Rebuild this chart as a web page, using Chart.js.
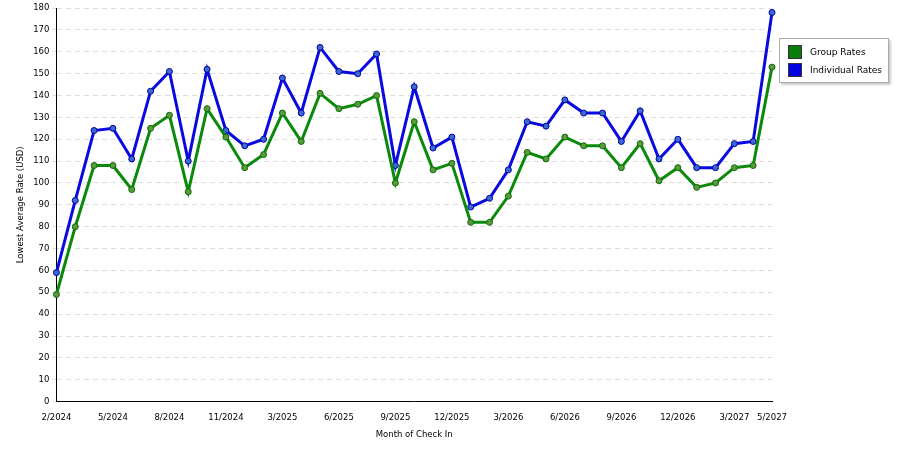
<!DOCTYPE html>
<html><head><meta charset="utf-8">
<script src="https://cdn.jsdelivr.net/npm/chart.js@4/dist/chart.umd.min.js"></script>
<style>
body{margin:0;background:#fff;font-family:"DejaVu Sans",sans-serif;}
#wrap{position:relative;width:900px;height:450px;}
#legend{position:absolute;left:779px;top:38px;width:110px;border:1px solid #aaa;background:#fff;font-size:9px;padding:4px 0 3px 8px;box-sizing:border-box;box-shadow:2px 2px 2px #ccc;}
#legend div{display:flex;align-items:center;height:18px;}
#legend span{display:inline-block;width:12px;height:12px;margin-right:8px;border:1px solid #333;}
</style></head><body>
<div id="wrap"><canvas id="c" width="900" height="450"></canvas>
<div id="legend"><div><span style="background:#0a7d0a"></span>Group Rates</div><div><span style="background:#0000e0"></span>Individual Rates</div></div></div>
<script>
const categories=["2/2024","3/2024","4/2024","5/2024","6/2024","7/2024","8/2024","9/2024","10/2024","11/2024","12/2024","1/2025","3/2025","4/2025","5/2025","6/2025","7/2025","8/2025","9/2025","10/2025","11/2025","12/2025","1/2026","2/2026","3/2026","4/2026","5/2026","6/2026","7/2026","8/2026","9/2026","10/2026","11/2026","12/2026","1/2027","2/2027","3/2027","4/2027","5/2027"];
const groupRates=[49,80,108,108,97,125,131,96,134,121,107,113,132,119,141,134,136,140,100,128,106,109,82,82,94,114,111,121,117,117,107,118,101,107,98,100,107,108,153];
const individualRates=[59,92,124,125,111,142,151,110,152,124,117,120,148,132,162,151,150,159,108,144,116,121,89,93,106,128,126,138,132,132,119,133,111,120,107,107,118,119,178];
const tickLabels=["2/2024","5/2024","8/2024","11/2024","3/2025","6/2025","9/2025","12/2025","3/2026","6/2026","9/2026","12/2026","3/2027","5/2027"];
const f={family:"DejaVu Sans",size:8.5};
new Chart(document.getElementById('c'),{type:'line',
data:{labels:categories,datasets:[
{label:'Group Rates',data:groupRates,borderColor:'#0a8a0a',backgroundColor:'#5a9a3a',pointBorderColor:'#0a6a0a',borderWidth:3,pointRadius:3,pointBorderWidth:1,tension:0},
{label:'Individual Rates',data:individualRates,borderColor:'#0a0ae0',backgroundColor:'#3a6ad0',pointBorderColor:'#0000a0',borderWidth:3,pointRadius:3,pointBorderWidth:1,tension:0}]},
options:{responsive:false,animation:false,layout:{padding:{right:128,top:-2,left:12,bottom:6}},
plugins:{legend:{display:false},tooltip:{enabled:false}},
scales:{
x:{offset:false,grid:{display:false},border:{color:'#000'},title:{display:true,text:'Month of Check In',font:f,color:'#000'},
ticks:{font:f,color:'#000',autoSkip:false,maxRotation:0,callback:function(v){const l=categories[v];return tickLabels.includes(l)?l:null;}}},
y:{min:0,max:180,title:{display:true,text:'Lowest Average Rate (USD)',font:f,color:'#000'},
ticks:{stepSize:10,font:f,color:'#000'},grid:{color:'#ddd',tickLength:4,drawTicks:true},border:{dash:[5,4],color:'#000'}}}}});
</script></body></html>
